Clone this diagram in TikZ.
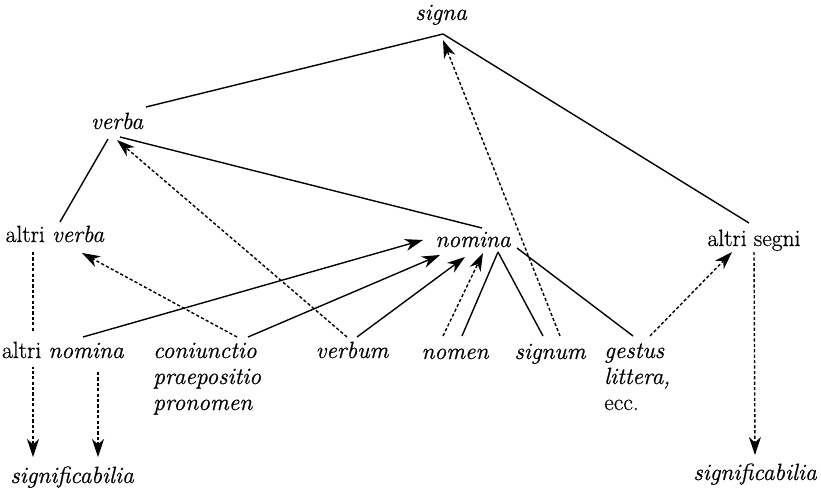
\documentclass[tikz,border=0pt]{standalone}
\usepackage{fontspec}
\setmainfont{Latin Modern Roman}[FakeBold=0.6]
\usetikzlibrary{arrows.meta,backgrounds}
\tikzset{
  it/.style={inner sep=0pt, font=\fontsize{23.5}{26}\selectfont\itshape},
  rm/.style={inner sep=0pt, font=\fontsize{23.5}{26}\selectfont},
  link/.style={line width=1.4pt},
  dotlink/.style={line width=1.4pt, dash pattern=on 3.2pt off 2.2pt},
  tip/.style={-{Stealth[length=18pt,width=12pt,inset=5.5pt]}},
}
\begin{document}
\begin{tikzpicture}[x=1pt,y=-1pt]
\useasboundingbox (0,0) rectangle (821,488);

% labels
\node[it, anchor=base] (signa) at (441,20) {signa};
\node[it, anchor=base] (verba) at (117,129) {verba};
\node[rm, anchor=base] (altriverba) at (55,242) {altri \textit{verba}};
\node[it, anchor=base] (nomina) at (473,247) {nomina};
\node[rm, anchor=base] (altrisegni) at (754,246) {altri segni};
\node[rm, anchor=base, fill=white, inner ysep=9pt] (altrinomina) at (63,358) {altri \textit{nomina}};
\node[it, anchor=base west, align=left] (coni) at (153,410) {coniunctio\\praepositio\\pronomen};
\node[it, anchor=base] (verbum) at (352,358) {verbum};
\node[it, anchor=base] (nomen) at (455,359) {nomen};
\node[it, anchor=base] (signum) at (550,359) {signum};
\node[it, anchor=base west, align=left] (gestus) at (604,410) {gestus\\littera,\\\upshape ecc.};
\node[it, anchor=base] (sigA) at (72,483) {significabilia};
\node[it, anchor=base] (sigB) at (755,480) {significabilia};

% tree of signs
\draw[link] ([shift={(29,-22)}]verba.base) -- ([shift={(2,14)}]signa.base) -- ([shift={(-5,-23)}]altrisegni.base);
\draw[link] ([shift={(3,8)}]verba.base) -- ([shift={(9,-19)}]nomina.base);
\draw[link] ([shift={(-9,10)}]verba.base) -- ([shift={(5,-20)}]altriverba.base);
\draw[link] ([shift={(25,5)}]nomina.base) -- ([shift={(7,-23)}]nomen.base);
\draw[link] ([shift={(25,5)}]nomina.base) -- ([shift={(-7,-23)}]signum.base);
\draw[link] ([shift={(44,1)}]nomina.base) -- ([shift={(29,-74)}]gestus.base west);

% solid arrows into nomina
\draw[link,tip] ([shift={(20,-21)}]altrinomina.base) -- ([shift={(-50,-7)}]nomina.base);
\draw[link,tip] ([shift={(95,-73)}]coni.base west) -- ([shift={(-33,8)}]nomina.base);
\draw[link,tip] ([shift={(5,-21)}]verbum.base) -- ([shift={(-8,10)}]nomina.base);

% dotted arrows
\draw[dotlink,tip] ([shift={(-5,-21)}]verbum.base) -- ([shift={(0,11)}]verba.base);
\draw[dotlink,tip] ([shift={(10,-23)}]signum.base) -- ([shift={(2,20)}]signa.base);
\draw[dotlink,tip] ([shift={(84,-73)}]coni.base west) -- ([shift={(27,11)}]altriverba.base);
\draw[dotlink,tip] ([shift={(-12,-23)}]nomen.base) -- ([shift={(10,6)}]nomina.base);
\draw[dotlink,tip] ([shift={(46,-74)}]gestus.base west) -- ([shift={(-22,6)}]altrisegni.base);
\draw[dotlink,tip] ([shift={(0,6)}]altrisegni.base) -- ([shift={(0,-25)}]sigB.base);
\draw[dotlink,tip] ([shift={(35,14)}]altrinomina.base) -- ([shift={(26,-26)}]sigA.base);
\begin{scope}[on background layer]
  \draw[dotlink,tip] ([shift={(-22,10)}]altriverba.base) -- ([shift={(-39,-26)}]sigA.base);
\end{scope}
\end{tikzpicture}
\end{document}
